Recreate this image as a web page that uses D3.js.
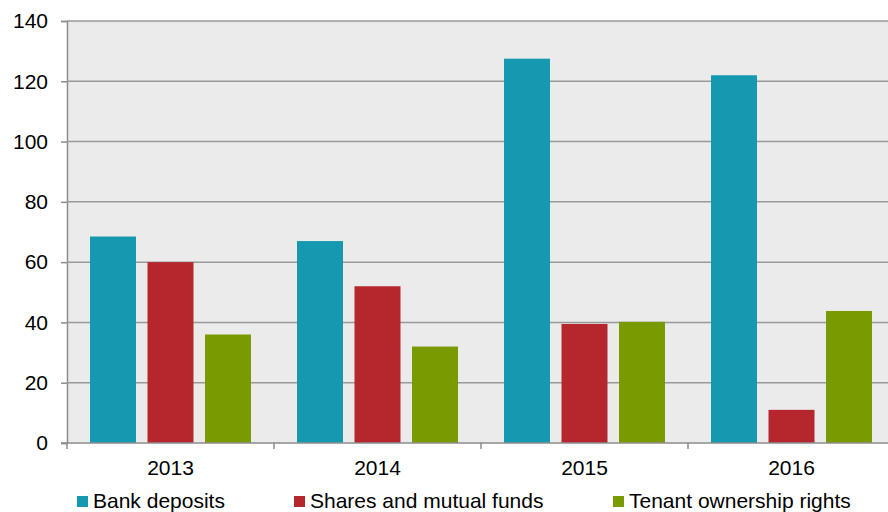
<!DOCTYPE html>
<html>
<head>
<meta charset="utf-8">
<script src="https://cdn.jsdelivr.net/npm/d3@7"></script>
<style>
  body { margin: 0; background: #fff; }
  svg text { font-family: "Liberation Sans", Arial, sans-serif; fill: #000; }
</style>
</head>
<body>
<div id="chart"></div>
<script>
// data
var years = ["2013", "2014", "2015", "2016"];
var seriesNames = ["Bank deposits", "Shares and mutual funds", "Tenant ownership rights"];
var bankDeposits = [68.5, 67, 127.5, 122];
var sharesFunds = [60, 52, 39.5, 11];
var tenantRights = [36, 32, 40.2, 43.8];
var yTicks = [0, 20, 40, 60, 80, 100, 120, 140];
var colors = ["#1499b1", "#b5262d", "#7a9a01"];

var width = 888, height = 512;
var margin = {top: 21, left: 67, bottom: 69};
var plotRight = 895; // plot runs slightly past the window edge

var svg = d3.select("#chart").append("svg")
  .attr("width", width)
  .attr("height", height);

var x = d3.scaleBand()
  .domain(years)
  .range([margin.left, plotRight])
  .paddingInner(0)
  .paddingOuter(0);

var x1 = d3.scaleBand()
  .domain(seriesNames)
  .range([23, x.bandwidth() - 23])
  .paddingInner(0.2);

var y = d3.scaleLinear()
  .domain([0, 140])
  .range([height - margin.bottom, margin.top]);

// plot background
svg.append("rect")
  .attr("x", margin.left)
  .attr("y", margin.top)
  .attr("width", plotRight - margin.left)
  .attr("height", y(0) - margin.top)
  .attr("fill", "#ebebeb");

// gridlines + left axis
var yAxis = svg.append("g")
  .attr("transform", "translate(" + margin.left + ",0)")
  .call(d3.axisLeft(y).tickValues(yTicks).tickSize(6).tickPadding(13));
yAxis.select(".domain").attr("stroke", "#8c8c8c").attr("stroke-width", 1.5);
yAxis.selectAll(".tick line").attr("stroke", "#8c8c8c").attr("stroke-width", 1.5);
yAxis.selectAll(".tick text").style("font-size", "21px").attr("fill", "#000");

svg.append("g")
  .selectAll("line")
  .data(yTicks.filter(function(d) { return d > 0; }))
  .enter().append("line")
  .attr("x1", margin.left)
  .attr("x2", plotRight)
  .attr("y1", function(d) { return y(d); })
  .attr("y2", function(d) { return y(d); })
  .attr("stroke", "#999")
  .attr("stroke-width", 1.5);

// bars
var rows = years.map(function(yr, i) {
  return {year: yr, values: [bankDeposits[i], sharesFunds[i], tenantRights[i]]};
});

var groups = svg.selectAll(".year")
  .data(rows)
  .enter().append("g")
  .attr("class", "year")
  .attr("transform", function(d) { return "translate(" + x(d.year) + ",0)"; });

groups.selectAll("rect")
  .data(function(d) { return d.values.map(function(v, j) { return {name: seriesNames[j], value: v, idx: j}; }); })
  .enter().append("rect")
  .attr("x", function(d) { return x1(d.name); })
  .attr("width", x1.bandwidth())
  .attr("y", function(d) { return y(d.value); })
  .attr("height", function(d) { return y(0) - y(d.value); })
  .attr("fill", function(d) { return colors[d.idx]; });

// bottom axis with ticks at category boundaries
var bottom = y(0);
svg.append("line")
  .attr("x1", margin.left - 6).attr("x2", plotRight)
  .attr("y1", bottom).attr("y2", bottom)
  .attr("stroke", "#8c8c8c").attr("stroke-width", 1.5);

svg.append("g")
  .selectAll("line")
  .data(years)
  .enter().append("line")
  .attr("x1", function(d) { return x(d); })
  .attr("x2", function(d) { return x(d); })
  .attr("y1", bottom)
  .attr("y2", bottom + 6)
  .attr("stroke", "#8c8c8c")
  .attr("stroke-width", 1.5);

svg.append("g")
  .selectAll("text")
  .data(years)
  .enter().append("text")
  .attr("x", function(d) { return x(d) + x.bandwidth() / 2; })
  .attr("y", bottom + 32)
  .attr("text-anchor", "middle")
  .style("font-size", "21px")
  .text(function(d) { return d; });

// legend
var legendX = [77, 294, 613];
var legend = svg.selectAll(".legend")
  .data(seriesNames)
  .enter().append("g")
  .attr("class", "legend")
  .attr("transform", function(d, i) { return "translate(" + legendX[i] + ",496)"; });

legend.append("rect")
  .attr("width", 11).attr("height", 11)
  .attr("fill", function(d, i) { return colors[i]; });

legend.append("text")
  .attr("x", 16)
  .attr("y", 12)
  .style("font-size", "21px")
  .text(function(d) { return d; });
</script>
</body>
</html>
